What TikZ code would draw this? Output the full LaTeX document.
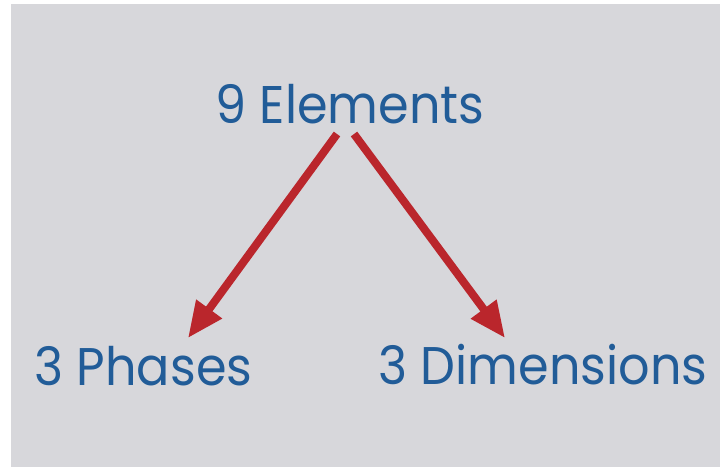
\documentclass[tikz,border=0pt]{standalone}
\usepackage{fontspec}
\setmainfont{Poppins}[FakeStretch=0.93]
\usepackage{tikz}
\usetikzlibrary{arrows.meta,positioning}
\definecolor{slideGray}{RGB}{215,215,219}
\definecolor{titleBlue}{RGB}{33,92,152}
\definecolor{arrowRed}{RGB}{186,38,44}

\begin{document}
\begin{tikzpicture}[x=1pt,y=-1pt,
  lbl/.style={inner sep=0pt,anchor=base,text=titleBlue,font=\fontsize{53}{60}\selectfont},
  split/.style={-{Triangle[length=36pt,width=30pt]},line width=8pt,arrowRed}
]
  \useasboundingbox (0,0) rectangle (720,467);
  \fill[slideGray] (11,4) rectangle (720,467);

  \node[lbl](elem)   at (350,123)   {9 Elements};
  \node[lbl](phases) at (143.5,385) {3 Phases};
  \node[lbl](dims)   at (543,384)   {3 Dimensions};

  \draw[split]([xshift=-13pt,yshift=-11pt]elem.base)--([xshift=44.5pt,yshift=47pt]phases.base);
  \draw[split]([xshift=4pt,yshift=-11pt]elem.base)--([xshift=-38pt,yshift=46pt]dims.base);
\end{tikzpicture}
\end{document}
